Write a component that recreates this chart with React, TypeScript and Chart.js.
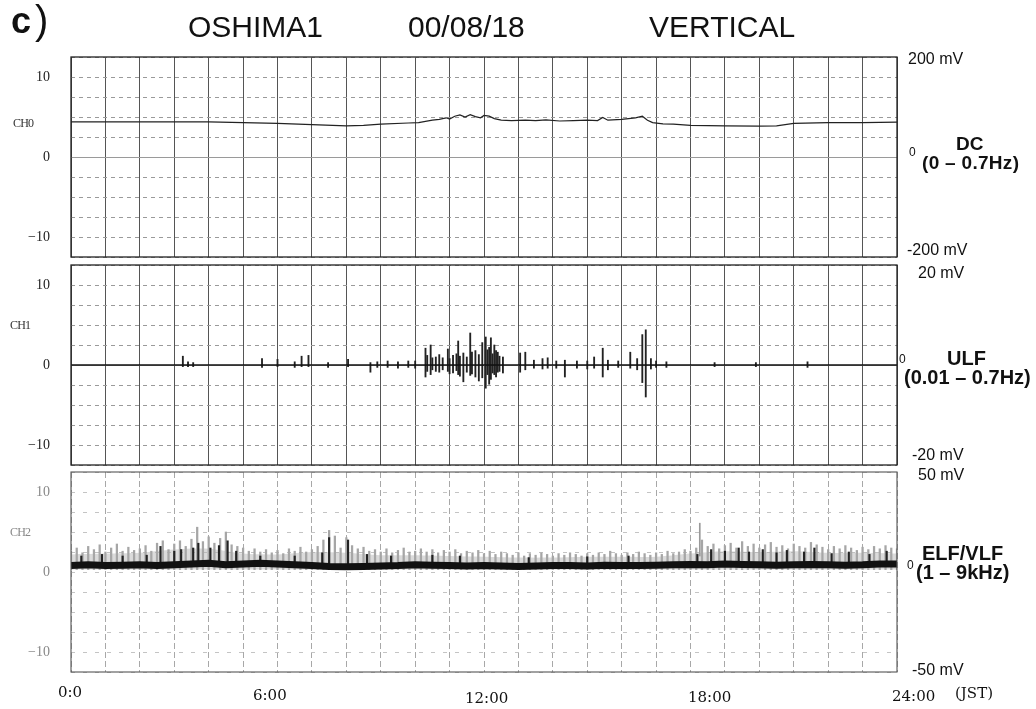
import React, { useEffect, useRef } from "react";
import { Chart, registerables } from "chart.js";

Chart.register(...registerables);

// ---------------- DATA ----------------
// time axis in hours (JST)
const hourTicks = [0, 6, 12, 18, 24];
const hourTickLabels = ["0:0", "6:00", "12:00", "18:00", "24:00"];

// CH0 : DC (0 - 0.7Hz)
const dcTimes = [0, 2, 4, 5, 6, 7, 8, 8.5, 9, 9.8, 10.1, 10.3, 10.5, 10.7, 10.9, 11.0, 11.15, 11.3, 11.45, 11.6, 11.75, 11.9, 12.0, 12.15, 12.3, 12.5, 12.8, 13.2, 13.5, 13.8, 14.2, 14.6, 15.0, 15.3, 15.45, 15.6, 16.0, 16.4, 16.6, 16.75, 16.9, 17.2, 17.5, 18, 19, 20, 20.5, 21, 22, 23, 24];
const dcValues = [4.4, 4.4, 4.4, 4.3, 4.2, 4.05, 3.9, 3.95, 4.1, 4.25, 4.3, 4.45, 4.6, 4.7, 4.9, 4.75, 5.1, 5.25, 5.0, 5.3, 5.05, 4.9, 5.2, 5.1, 4.8, 4.6, 4.55, 4.6, 4.55, 4.65, 4.5, 4.55, 4.6, 4.55, 4.95, 4.6, 4.7, 4.9, 5.1, 4.6, 4.3, 4.15, 4.1, 3.95, 3.9, 3.85, 3.9, 4.2, 4.3, 4.3, 4.35];

// CH1 : ULF (0.01 - 0.7Hz)
const ulfBaseTimes = [0, 24];
const ulfBaseValues = [0, 0];
const ulfSpikeTimes = [3.25, 3.4, 3.55, 5.55, 6.0, 6.5, 6.7, 6.9, 7.47, 8.05, 8.7, 8.9, 9.2, 9.5, 9.8, 10.0, 10.3, 10.35, 10.45, 10.5, 10.6, 10.7, 10.8, 10.95, 11.0, 11.1, 11.2, 11.25, 11.3, 11.4, 11.5, 11.6, 11.65, 11.75, 11.85, 11.95, 12.05, 12.1, 12.15, 12.2, 12.25, 12.3, 12.35, 12.4, 12.45, 12.55, 13.05, 13.2, 13.45, 13.7, 13.85, 14.1, 14.35, 14.7, 15.0, 15.2, 15.45, 15.6, 15.9, 16.25, 16.45, 16.6, 16.7, 16.85, 17.0, 17.3, 18.7, 19.9, 21.4];
const ulfSpikeHigh = [1.1, 0.4, 0.3, 0.8, 0.7, 0.4, 1.1, 1.2, 0.3, 0.7, 0.3, 0.4, 0.5, 0.4, 0.5, 0.5, 2.1, 1.2, 2.5, 0.9, 1.0, 1.3, 0.9, 2.0, 0.8, 1.2, 1.4, 3.0, 1.1, 1.5, 1.0, 4.0, 1.6, 1.8, 1.3, 2.8, 3.5, 1.9, 2.2, 3.4, 1.4, 2.5, 1.8, 1.6, 1.1, 1.0, 1.5, 1.6, 0.6, 0.8, 0.9, 0.5, 0.6, 0.5, 0.5, 1.0, 2.1, 0.6, 0.5, 1.6, 0.8, 3.8, 4.4, 0.8, 0.5, 0.4, 0.3, 0.3, 0.4];
const ulfSpikeLow = [-0.2, -0.2, -0.2, -0.3, -0.2, -0.3, -0.2, -0.2, -0.3, -0.2, -0.9, -0.3, -0.3, -0.4, -0.3, -0.4, -1.5, -0.8, -1.2, -0.6, -0.8, -0.9, -0.6, -0.8, -1.1, -1.0, -0.7, -1.2, -1.4, -2.1, -0.9, -1.3, -1.1, -1.5, -2.0, -1.6, -2.9, -1.2, -2.4, -1.8, -1.0, -1.2, -1.5, -0.9, -0.8, -1.0, -0.9, -0.6, -0.4, -0.5, -0.4, -0.4, -1.5, -0.4, -0.5, -0.4, -1.5, -0.6, -0.3, -0.4, -0.6, -2.2, -4.0, -0.5, -0.3, -0.3, -0.2, -0.2, -0.3];

// CH2 : ELF/VLF (1 - 9kHz)
// upper envelope of the grey hatching, every 10 minutes
const elfGrayTop = [
  2.6, 3.0, 2.4, 3.2, 2.8, 3.4,
  2.5, 3.0, 3.5, 2.6, 3.1, 2.7,
  2.9, 3.3, 2.6, 3.6, 3.9, 2.8,
  3.5, 3.9, 3.2, 4.1, 5.6, 3.8,
  4.4, 3.6, 4.2, 5.0, 3.4, 3.2,
  3.0, 2.6, 2.9, 2.5, 2.8, 2.4,
  2.7, 2.3, 2.9, 2.6, 3.1, 2.5,
  2.8, 3.2, 4.0, 5.2, 4.5, 3.0,
  4.3, 3.3, 2.9, 3.1, 2.6, 2.8,
  2.5, 2.9, 2.4, 2.7, 3.0, 2.5,
  2.6, 2.9, 2.5, 2.8, 2.4, 2.7,
  2.5, 2.8, 2.3, 2.6, 2.4, 2.7,
  2.3, 2.6, 2.2, 2.5, 2.3, 2.1,
  2.4, 2.0, 2.3, 2.1, 2.4, 2.2,
  2.0, 2.3, 2.1, 2.4, 2.2, 2.0,
  2.3, 2.1, 2.4, 2.2, 2.6, 2.3,
  2.1, 2.4, 2.2, 2.5, 2.3, 2.1,
  2.4, 2.2, 2.6, 2.3, 2.5, 2.8,
  2.6, 3.0, 4.0, 3.2, 3.5, 2.9,
  3.3, 3.6, 3.0, 3.8, 3.2, 3.5,
  3.0, 3.4, 3.7, 3.1, 3.3, 2.9,
  3.5, 3.2, 3.0, 3.7, 3.4, 3.1,
  2.8, 3.2, 2.9, 3.3, 3.0, 2.7,
  3.1, 2.8, 3.2, 2.9, 3.3, 3.0,
  2.9,
];
const elfGrayBottom = 0.3;
const elfGrayStepHours = 1 / 6;
// typical (dense) level of the grey hatching, every hour
const elfHazeTop = [2.2, 2.3, 2.4, 2.8, 2.9, 2.3, 2.2, 2.5, 2.4, 2.1, 2.1, 2.0, 1.9, 1.8, 1.8, 1.9, 1.9, 1.9, 2.3, 2.6, 2.5, 2.6, 2.4, 2.4, 2.3];
// centre of the dense black band, every 30 minutes
const elfCore = [
  0.8, 0.9, 0.8, 0.85, 0.9, 0.8,
  0.9, 1.0, 1.1, 0.9, 1.0, 1.1,
  1.0, 0.9, 0.8, 0.7, 0.65, 0.7,
  0.75, 0.8, 0.9, 0.85, 0.8, 0.75,
  0.8, 0.75, 0.7, 0.75, 0.8, 0.8,
  0.75, 0.85, 0.8, 0.8, 0.85, 0.9,
  0.95, 0.9, 1.0, 0.95, 0.9, 0.85,
  0.9, 0.95, 0.9, 0.85, 0.9, 1.0,
  1.0,
];
const elfCoreStepHours = 0.5;
// darker bursts above the band
const elfDarkTimes = [0.3, 0.9, 1.5, 2.2, 2.6, 3.0, 3.2, 3.55, 3.7, 4.05, 4.3, 4.55, 4.8, 5.5, 6.5, 7.3, 7.5, 8.05, 8.6, 9.3, 10.5, 11.3, 13.3, 15.0, 16.2, 18.2, 18.6, 19.0, 19.4, 19.7, 20.1, 20.5, 20.8, 21.3, 21.6, 22.1, 22.6, 23.2, 23.7];
const elfDarkHigh = [2.0, 2.2, 2.0, 2.1, 3.2, 2.6, 2.8, 3.0, 3.6, 3.0, 3.3, 3.9, 2.6, 2.0, 2.0, 2.4, 4.3, 4.0, 2.2, 2.0, 2.1, 2.0, 1.8, 1.9, 2.0, 2.2, 2.8, 2.6, 3.0, 2.5, 2.8, 2.4, 2.7, 2.5, 3.0, 2.3, 2.5, 2.2, 2.6];
const elfFlashTimes = [18.27];
const elfFlashHigh = [6.1];
const elfFlashLow = [2.0];

// ---------------- HELPERS ----------------
const SANS = '"Liberation Sans", Arial, sans-serif';
const SERIF = '"Liberation Serif", "Times New Roman", serif';
const SERIF_AX = '"DejaVu Serif", serif';

const framePlugin = {
  id: "frame",
  afterDraw(chart: any, _args: any, opts: any) {
    const { ctx, chartArea } = chart;
    const { left, top, right, bottom } = chartArea;
    ctx.save();
    ctx.strokeStyle = opts.color || "#222";
    ctx.lineWidth = opts.width || 1.3;
    ctx.strokeRect(left, top, right - left, bottom - top);
    ctx.restore();
  },
};

function yTickLabel(v: number) {
  if (Math.abs(v - 10) < 1e-6) return "10";
  if (Math.abs(v) < 1e-6) return "0";
  if (Math.abs(v + 10) < 1e-6) return "\u221210";
  return "";
}

type PanelStyle = {
  vColor: string;
  vDash: number[];
  hColor: string;
  hDash: number[];
  zeroSolid: boolean;
  frameColor: string;
  frameWidth: number;
  tickColor: string;
};

const PAD = 34;

function buildOptions(st: PanelStyle) {
  return {
    animation: false,
    responsive: false,
    maintainAspectRatio: false,
    events: [],
    layout: { padding: { left: 0, right: 139, top: PAD, bottom: PAD } },
    plugins: {
      legend: { display: false },
      tooltip: { enabled: false },
      frame: { color: st.frameColor, width: st.frameWidth },
    },
    scales: {
      x: {
        type: "linear",
        min: 0,
        max: 24,
        offset: false,
        ticks: { display: false, stepSize: 1 },
        grid: { color: st.vColor, lineWidth: 1, drawTicks: false, offset: false },
        border: { display: false, dash: st.vDash },
        afterFit: (s: any) => {
          s.height = 0;
        },
      },
      y: {
        type: "linear",
        min: -12.5,
        max: 12.5,
        ticks: {
          stepSize: 2.5,
          autoSkip: false,
          padding: 21,
          color: st.tickColor,
          font: { family: SERIF, size: 14 },
          callback: (v: any) => yTickLabel(Number(v)),
        },
        grid: { color: st.hColor, lineWidth: 1, drawTicks: false },
        border: {
          display: false,
          dash: (ctx: any) =>
            st.zeroSolid && ctx.tick && Math.abs(ctx.tick.value) < 1e-6 ? [] : st.hDash,
        },
        afterFit: (s: any) => {
          s.width = 71;
        },
      },
    },
  };
}

const dcData = dcTimes.map((t, i) => ({ x: t, y: dcValues[i] }));
const ulfBase = ulfBaseTimes.map((t, i) => ({ x: t, y: ulfBaseValues[i] }));
const ulfSpikes = ulfSpikeTimes.map((t, i) => ({ x: t, y: [ulfSpikeLow[i], ulfSpikeHigh[i]] }));
const elfGray = elfGrayTop.map((v, i) => ({ x: i * elfGrayStepHours, y: [elfGrayBottom, v] }));
const elfHaze = elfHazeTop.map((v, i) => ({ x: i, y: v }));
const elfCoreData = elfCore.map((v, i) => ({ x: i * elfCoreStepHours, y: v }));
const elfDark = elfDarkTimes.map((t, i) => ({ x: t, y: [elfCore[Math.round(t / elfCoreStepHours)], elfDarkHigh[i]] }));
const elfFlash = elfFlashTimes.map((t, i) => ({ x: t, y: [elfFlashLow[i], elfFlashHigh[i]] }));

const PANEL_TOPS = [57, 265, 472];
const PANEL_H = 200;

function Panel({ index, datasets, style }: { index: number; datasets: any[]; style: PanelStyle }) {
  const ref = useRef<HTMLCanvasElement | null>(null);
  useEffect(() => {
    if (!ref.current) return;
    const chart = new Chart(ref.current, {
      type: "line",
      data: { datasets },
      options: buildOptions(style) as any,
      plugins: [framePlugin as any],
    });
    return () => chart.destroy();
  }, []);
  return (
    <canvas
      ref={ref}
      width={1036}
      height={PANEL_H + 2 * PAD}
      style={{ position: "absolute", left: 0, top: PANEL_TOPS[index] - PAD, width: 1036, height: PANEL_H + 2 * PAD }}
    />
  );
}

type Lbl = { t: string; x: number; y: number; s: number; w?: number; f?: string; c?: string; ls?: number };

const LABELS: Lbl[] = [
  { t: "c", x: 11, y: 3, s: 36, w: 700 },
  { t: ")", x: 35, y: 0, s: 40, w: 400 },
  { t: "OSHIMA1", x: 188, y: 12, s: 30 },
  { t: "00/08/18", x: 408, y: 12, s: 30 },
  { t: "VERTICAL", x: 649, y: 12, s: 30 },
  // right side annotations
  { t: "200 mV", x: 908, y: 51, s: 16 },
  { t: "DC", x: 956, y: 134, s: 19, w: 700 },
  { t: "0", x: 909, y: 146, s: 12 },
  { t: "(0 \u2013 0.7Hz)", x: 922, y: 153, s: 19, w: 700, ls: 0.3 },
  { t: "-200 mV", x: 907, y: 242, s: 16 },
  { t: "20 mV", x: 918, y: 265, s: 16 },
  { t: "0", x: 899, y: 353, s: 12 },
  { t: "ULF", x: 947, y: 348, s: 20, w: 700 },
  { t: "(0.01 \u2013 0.7Hz)", x: 904, y: 367, s: 20, w: 700 },
  { t: "-20 mV", x: 912, y: 447, s: 16 },
  { t: "50 mV", x: 918, y: 467, s: 16 },
  { t: "ELF/VLF", x: 922, y: 543, s: 20, w: 700 },
  { t: "0", x: 907, y: 559, s: 12 },
  { t: "(1 \u2013 9kHz)", x: 916, y: 562, s: 20, w: 700 },
  { t: "-50 mV", x: 912, y: 662, s: 16 },
  // channel names
  { t: "CH0", x: 13, y: 117, s: 12, f: SERIF, c: "#333", ls: -0.8 },
  { t: "CH1", x: 10, y: 319, s: 12, f: SERIF, c: "#333", ls: -0.8 },
  { t: "CH2", x: 10, y: 526, s: 12, f: SERIF, c: "#888", ls: -0.8 },
  // time axis
  { t: hourTickLabels[0], x: 58, y: 685, s: 15, f: SERIF_AX },
  { t: hourTickLabels[1], x: 253, y: 688, s: 15, f: SERIF_AX },
  { t: hourTickLabels[2], x: 465, y: 691, s: 15, f: SERIF_AX },
  { t: hourTickLabels[3], x: 688, y: 690, s: 15, f: SERIF_AX },
  { t: hourTickLabels[4], x: 892, y: 689, s: 15, f: SERIF_AX },
  { t: "(JST)", x: 955, y: 686, s: 15, f: SERIF_AX },
];

export default function App() {
  const style12: PanelStyle = {
    vColor: "#555",
    vDash: [],
    hColor: "#9a9a9a",
    hDash: [4, 4],
    zeroSolid: true,
    frameColor: "#222",
    frameWidth: 1.3,
    tickColor: "#222",
  };
  const style3: PanelStyle = {
    vColor: "#a8a8a8",
    vDash: [6, 3],
    hColor: "#c4c4c4",
    hDash: [4, 8],
    zeroSolid: false,
    frameColor: "#555",
    frameWidth: 1.1,
    tickColor: "#888",
  };

  const dcSets = [
    {
      type: "line",
      data: dcData,
      borderColor: "#222",
      borderWidth: 1.2,
      pointRadius: 0,
      tension: 0,
      fill: false,
    },
  ];
  const ulfSets = [
    {
      type: "line",
      data: ulfBase,
      borderColor: "#111",
      borderWidth: 1.4,
      pointRadius: 0,
      tension: 0,
      fill: false,
      order: 0,
    },
    {
      type: "bar",
      data: ulfSpikes,
      backgroundColor: "#222",
      barThickness: 1.2,
      grouped: false,
      order: 1,
    },
  ];
  const elfSets = [
    {
      type: "line",
      data: elfCoreData,
      borderColor: "#111",
      borderWidth: 7,
      pointRadius: 0,
      tension: 0,
      fill: false,
      order: 0,
    },
    {
      type: "bar",
      data: elfDark,
      backgroundColor: "#222",
      barThickness: 1.5,
      grouped: false,
      order: 1,
    },
    {
      type: "bar",
      data: elfFlash,
      backgroundColor: "#999",
      barThickness: 1,
      grouped: false,
      order: 2,
    },
    {
      type: "bar",
      data: elfGray,
      backgroundColor: "#a6a6a6",
      barThickness: 1.6,
      grouped: false,
      order: 3,
    },
    {
      type: "line",
      data: elfHaze,
      borderWidth: 0,
      borderColor: "rgba(0,0,0,0)",
      backgroundColor: "rgba(175,175,175,0.45)",
      pointRadius: 0,
      tension: 0.3,
      fill: { value: elfGrayBottom },
      order: 4,
    },
  ];

  return (
    <div style={{ position: "absolute", left: 0, top: 0, width: 1036, height: 709, background: "#fff", overflow: "hidden" }}>
      <Panel index={0} datasets={dcSets} style={style12} />
      <Panel index={1} datasets={ulfSets} style={style12} />
      <Panel index={2} datasets={elfSets} style={style3} />
      {LABELS.map((l, i) => (
        <div
          key={i}
          style={{
            position: "absolute",
            left: l.x,
            top: l.y,
            fontSize: l.s,
            lineHeight: 1,
            fontFamily: l.f || SANS,
            fontWeight: l.w || 400,
            color: l.c || "#111",
            whiteSpace: "pre",
            letterSpacing: l.ls || 0,
          }}
        >
          {l.t}
        </div>
      ))}
    </div>
  );
}
